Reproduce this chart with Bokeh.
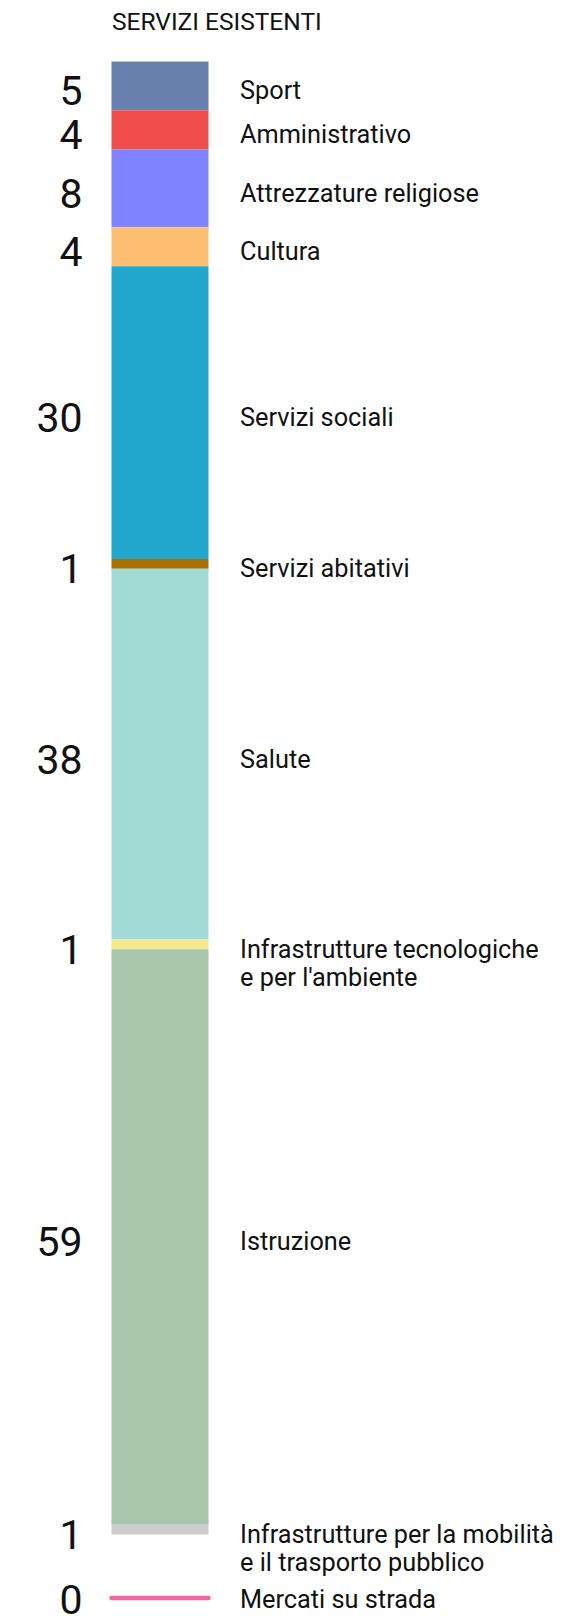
from bokeh.plotting import figure
from bokeh.models import Range1d, ColumnDataSource
from bokeh.embed import file_html
from bokeh.resources import INLINE
from bokeh.core.properties import value

# ---------------- data ----------------
title = "SERVIZI ESISTENTI"
categories = [
    "Sport",
    "Amministrativo",
    "Attrezzature religiose",
    "Cultura",
    "Servizi sociali",
    "Servizi abitativi",
    "Salute",
    "Infrastrutture tecnologiche\ne per l'ambiente",
    "Istruzione",
    "Infrastrutture per la mobilità\ne il trasporto pubblico",
]
counts = [5, 4, 8, 4, 30, 1, 38, 1, 59, 1]
colors = [
    "#6780ae", "#f14d4d", "#7f83ff", "#fdbe71", "#22a7cf",
    "#a87000", "#a2dbd5", "#f4e98e", "#a7c6ab", "#cccccc",
]
zero_category = "Mercati su strada"
zero_count = 0
zero_color = "#f067a6"

# ---------------- layout / style ----------------
W, H = 569, 1616
BAR_TOP_PX = 61
PX_PER_UNIT = 9.755
BAR_LEFT, BAR_RIGHT = 111, 208
NUM_X = 82
LABEL_X = 239.5
GAP_UNITS = 6.5
FONT = value("Roboto")
LABEL_SIZE = 25.3
NUM_SIZE = 41
LINE_STEP = 28
ROW_OFFSET = 5
ZERO_OFFSET = 1.5
TXT = "#111111"

y_top = -BAR_TOP_PX / PX_PER_UNIT
y_bottom = (H - BAR_TOP_PX) / PX_PER_UNIT

p = figure(width=W, height=H, x_range=Range1d(0, W), y_range=Range1d(y_bottom, y_top),
           output_backend="svg", toolbar_location=None, min_border=0,
           x_axis_location=None, y_axis_location=None, outline_line_color=None,
           background_fill_color="white", border_fill_color="white")
p.grid.visible = False

# stacked segments
starts, ends, centers = [], [], []
acc = 0
for c in counts:
    starts.append(acc)
    ends.append(acc + c)
    centers.append(acc + c / 2)
    acc += c
total = acc

bars = ColumnDataSource(dict(top=starts, bottom=ends, color=colors))
p.quad(left=BAR_LEFT, right=BAR_RIGHT, top="top", bottom="bottom", fill_color="color",
       line_color=None, source=bars)

# zero item line
zero_y = total + GAP_UNITS
p.segment(x0=[BAR_LEFT], x1=[BAR_RIGHT], y0=[zero_y], y1=[zero_y], line_color=zero_color,
          line_width=4.5, line_cap="round")

row_offsets = [ROW_OFFSET] * len(counts) + [ZERO_OFFSET]

# numbers
num_src = ColumnDataSource(dict(y=centers + [zero_y],
                                t=[str(c) for c in counts] + [str(zero_count)],
                                off=row_offsets))
p.text(x=NUM_X, y="y", text="t", y_offset="off", source=num_src, text_font=FONT,
       text_font_size=f"{NUM_SIZE}px", text_align="right", text_baseline="middle",
       text_color=TXT)

# labels (multi-line split)
ly, lt, loff = [], [], []
for cat, yc, ro in zip(categories + [zero_category], centers + [zero_y], row_offsets):
    for i, line in enumerate(cat.split("\n")):
        ly.append(yc)
        lt.append(line)
        loff.append(ro + i * LINE_STEP)
lab_src = ColumnDataSource(dict(y=ly, t=lt, off=loff))
p.text(x=LABEL_X, y="y", text="t", y_offset="off", source=lab_src, text_font=FONT,
       text_font_size=f"{LABEL_SIZE}px", text_align="left", text_baseline="middle",
       text_color=TXT)

# title
p.text(x=[111.5], y=[(20.5 - BAR_TOP_PX) / PX_PER_UNIT], text=[title], text_font=FONT,
       text_font_size="24.5px", text_align="left", text_baseline="middle",
       text_color=TXT)

open("out.html", "w").write(file_html(p, INLINE))
